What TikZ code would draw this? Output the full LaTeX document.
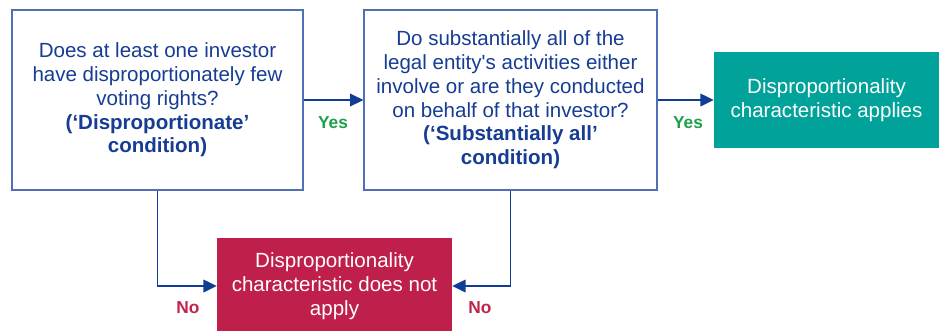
\documentclass[tikz,border=0pt]{standalone}
\usepackage{fontspec}
\setmainfont{Liberation Sans}
\usetikzlibrary{arrows.meta}
\definecolor{navytext}{HTML}{163C94}
\definecolor{bordblue}{HTML}{4F70B4}
\definecolor{arrblue}{HTML}{123D97}
\definecolor{tealbox}{HTML}{00A29A}
\definecolor{redbox}{HTML}{BE1F4B}
\definecolor{yesgreen}{HTML}{1EA04B}
\definecolor{nored}{HTML}{C0244C}
\begin{document}
\begin{tikzpicture}[x=0.75pt,y=-0.75pt,
  qbox/.style={draw=bordblue, line width=0.9pt, fill=white, text=navytext, align=center,
    font=\fontsize{15.4}{17.8}\selectfont, inner sep=0pt},
  resbox/.style={draw=none, text=white, align=center,
    font=\fontsize{15.4}{17.8}\selectfont, inner sep=0pt},
  arr/.style={draw=arrblue, line width=1.1pt, -{Triangle[length=10pt,width=9.5pt]}},
  yeslbl/.style={text=yesgreen, font=\fontsize{13}{15}\selectfont\bfseries},
  nolbl/.style={text=nored, font=\fontsize{13}{15}\selectfont\bfseries}]
\useasboundingbox (0,0) rectangle (939,330);
\node[qbox, minimum width=218.25pt, minimum height=135pt] (q1) at (157.5,100)
  {Does at least one investor\\have disproportionately few\\voting rights?\\\textbf{(‘Disproportionate’}\\\textbf{condition)}};
\node[qbox, minimum width=219.75pt, minimum height=135pt] (q2) at (510.5,100)
  {Do substantially all of the\\legal entity\textquotesingle s activities either\\involve or are they conducted\\on behalf of that investor?\\\textbf{(‘Substantially all’}\\\textbf{condition)}};
\node[resbox, fill=tealbox, minimum width=168.75pt, minimum height=72pt] (yes) at (826.5,100)
  {Disproportionality\\characteristic applies};
\node[resbox, fill=redbox, minimum width=176.25pt, minimum height=72pt] (no) at (334.5,286)
  {Disproportionality\\characteristic does not\\apply};
\draw[arr] (q1.east) -- (q2.west);
\draw[arr] (q2.east) -- (yes.west);
\draw[arr] (q1.south) |- (no.west);
\draw[arr] (q2.south) |- (no.east);
\node[yeslbl] (y1) at (333,123) {Yes};
\node[yeslbl] (y2) at (688,123) {Yes};
\node[nolbl] (n1) at (188,308) {No};
\node[nolbl] (n2) at (480,308) {No};
\end{tikzpicture}
\end{document}
